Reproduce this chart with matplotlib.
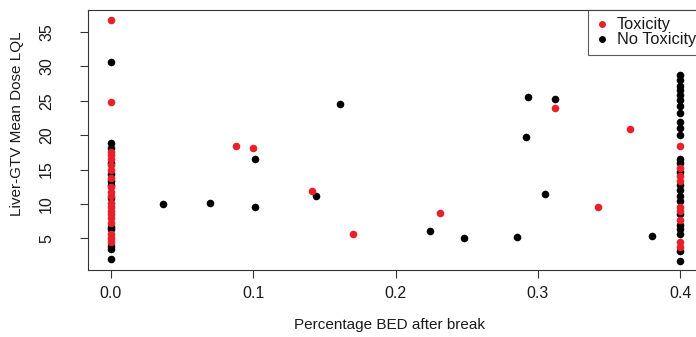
import matplotlib
matplotlib.use("Agg")
import matplotlib.pyplot as plt
from matplotlib.lines import Line2D

plt.rcParams['font.family'] = ['Liberation Sans', 'DejaVu Sans']

# Toxicity (red)
tox_x = [0.0] * 20 + [0.088, 0.100, 0.141, 0.170, 0.231, 0.312, 0.342, 0.365] + [0.4] * 9
tox_y = [36.7, 24.8, 17.6, 17.1, 16.5, 15.6, 15.0, 13.8, 12.4, 11.8,
         11.2, 10.2, 9.6, 9.0, 8.5, 7.9, 7.3, 5.7, 5.1, 4.5,
         18.5, 18.2, 11.9, 5.7, 8.7, 24.0, 9.6, 20.9,
         18.5, 15.2, 14.0, 13.4, 9.6, 9.0, 7.6, 4.4, 3.8]

# No toxicity (black)
notox_x = ([0.0] * 13
           + [0.037, 0.070, 0.101, 0.101, 0.144, 0.161, 0.224, 0.248,
              0.285, 0.293, 0.292, 0.305, 0.312, 0.380]
           + [0.4] * 24)
notox_y = [30.6, 18.8, 18.2, 16.0, 14.4, 13.3, 12.8, 10.8, 6.7, 6.3, 3.9, 3.4, 2.0,
           10.0, 10.2, 16.5, 9.6, 11.1, 24.5, 6.1, 5.0,
           5.2, 25.5, 19.8, 11.5, 25.2, 5.4,
           28.7, 28.0, 27.2, 26.5, 25.8, 25.1, 24.3, 23.2, 21.9, 21.0,
           20.0, 16.6, 16.0, 14.6, 12.7, 12.0, 11.1, 10.4, 8.5, 6.9,
           6.3, 5.7, 3.2, 1.75]

x_ticks = [0.0, 0.1, 0.2, 0.3, 0.4]
x_tick_labels = ["0.0", "0.1", "0.2", "0.3", "0.4"]
y_ticks = [5, 10, 15, 20, 25, 30, 35]

red = '#e8202a'
W, H = 696, 337

fig = plt.figure(figsize=(W / 100, H / 100), dpi=100)
# axes right edge runs past the picture, as in the cropped original
ax = fig.add_axes([88 / W, (H - 270) / H, 615 / W, 260 / H])

ax.scatter(notox_x, notox_y, s=30, color='black', linewidths=0, zorder=3)
ax.scatter(tox_x, tox_y, s=30, color=red, linewidths=0, zorder=3)

ax.set_xlim(-0.016, 0.416)
ax.set_ylim(0.4, 38.2)
ax.set_xticks(x_ticks)
ax.set_xticklabels(x_tick_labels)
ax.set_yticks(y_ticks)
ax.set_yticklabels([str(v) for v in y_ticks], rotation=90, va='center')

ax.tick_params(axis='x', length=5.5, width=0.8, color='#333333', labelsize=11.5, pad=6, labelcolor='#1a1a1a')
ax.tick_params(axis='y', length=5.5, width=0.8, color='#333333', labelsize=11.5, pad=19, labelcolor='#1a1a1a')
for sp in ax.spines.values():
    sp.set_linewidth(0.8)
    sp.set_color('#333333')

fig.text(389 / W, 1 - 325 / H, "Percentage BED after break", ha='center', va='center',
         fontsize=11, color='#1a1a1a')
fig.text(17 / W, 1 - 124 / H, "Liver-GTV Mean Dose LQL", ha='center', va='center',
         rotation=90, fontsize=11, color='#1a1a1a')

handles = [
    Line2D([], [], marker='o', linestyle='none', markersize=5, color=red, markeredgewidth=0),
    Line2D([], [], marker='o', linestyle='none', markersize=5, color='black', markeredgewidth=0),
]
leg = ax.legend(handles, ["Toxicity", "No Toxicity"], loc='upper left',
                bbox_to_anchor=(500 / 615, 1.0), borderaxespad=0, fontsize=11.8,
                frameon=True, fancybox=False, handlelength=0.85, handletextpad=0.45,
                labelspacing=0.0, borderpad=0.45)
leg.get_frame().set_edgecolor('#333333')
leg.get_frame().set_linewidth(0.8)
for t in leg.get_texts():
    t.set_color('#1a1a1a')

fig.savefig('out.png', dpi=100)
